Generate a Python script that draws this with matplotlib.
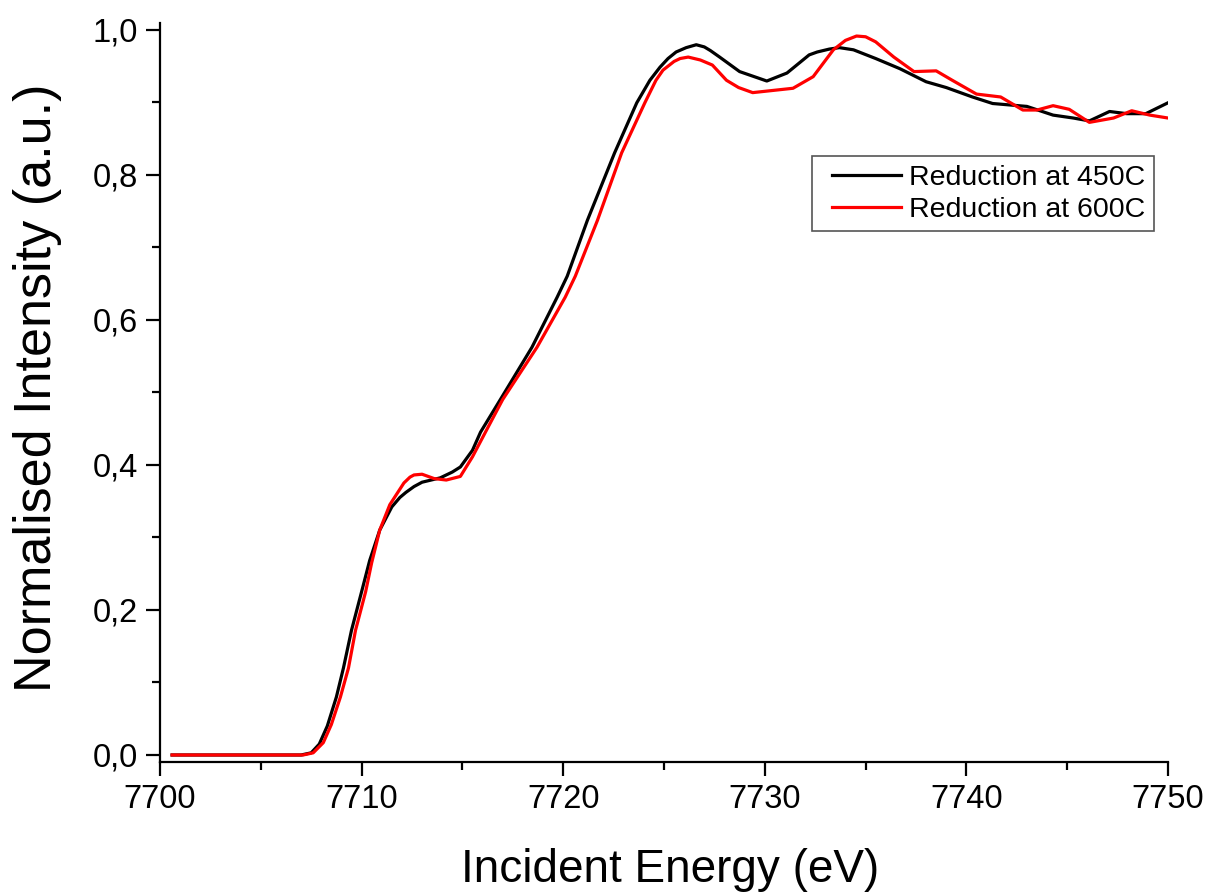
import matplotlib
matplotlib.use("Agg")
import matplotlib.pyplot as plt
from matplotlib.legend_handler import HandlerLine2D
from matplotlib.ticker import FuncFormatter, MultipleLocator

plt.rcParams["font.family"] = ["Liberation Sans", "DejaVu Sans"]

energy_450 = [7700.6, 7704.0, 7707.0, 7707.5, 7707.9, 7708.3, 7708.75, 7709.1, 7709.5,
              7710.0, 7710.4, 7710.9, 7711.5, 7711.9, 7712.2, 7712.6, 7713.0, 7713.9,
              7714.5, 7714.9, 7715.5, 7715.9, 7716.95, 7718.45, 7719.7, 7720.2, 7721.2,
              7722.55, 7723.65, 7724.3, 7724.8, 7725.2, 7725.6, 7726.1, 7726.6, 7727.0,
              7727.3, 7727.76, 7728.75, 7730.1, 7731.1, 7732.2, 7732.6, 7733.2, 7733.7,
              7734.4, 7735.5, 7736.7, 7738.0, 7739.0, 7740.3, 7741.3, 7743.0, 7744.3,
              7745.3, 7746.1, 7747.1, 7747.95, 7748.9, 7750.0]
intensity_450 = [0.0, 0.0, 0.0, 0.003, 0.015, 0.04, 0.08, 0.12, 0.172,
                 0.225, 0.268, 0.31, 0.342, 0.355, 0.362, 0.370, 0.376, 0.382,
                 0.390, 0.397, 0.420, 0.445, 0.493, 0.562, 0.631, 0.660, 0.737,
                 0.830, 0.899, 0.930, 0.948, 0.960, 0.969, 0.975, 0.979, 0.976,
                 0.971, 0.962, 0.942, 0.929, 0.940, 0.965, 0.969, 0.973, 0.975,
                 0.972, 0.960, 0.946, 0.928, 0.920, 0.907, 0.898, 0.894, 0.882,
                 0.878, 0.874, 0.887, 0.884, 0.884, 0.899]

energy_600 = [7700.6, 7704.0, 7707.1, 7707.6, 7708.1, 7708.5, 7708.95, 7709.35, 7709.7,
              7710.2, 7710.5, 7710.9, 7711.4, 7712.1, 7712.4, 7712.6, 7713.0, 7713.6,
              7714.2, 7714.9, 7715.5, 7716.2, 7717.0, 7718.7, 7720.1, 7720.6, 7721.7,
              7722.9, 7724.05, 7724.6, 7724.95, 7725.5, 7725.8, 7726.2, 7726.8, 7727.4,
              7728.1, 7728.7, 7729.4, 7730.4, 7731.4, 7732.4, 7733.4, 7734.0, 7734.55,
              7735.0, 7735.5, 7736.4, 7737.4, 7738.5, 7739.3, 7740.5, 7741.7, 7742.8,
              7743.5, 7744.3, 7745.1, 7746.1, 7747.3, 7748.2, 7749.1, 7750.0]
intensity_600 = [0.0, 0.0, 0.0, 0.003, 0.017, 0.042, 0.08, 0.12, 0.172,
                 0.225, 0.265, 0.31, 0.345, 0.375, 0.383, 0.386, 0.387, 0.381,
                 0.379, 0.384, 0.411, 0.448, 0.49, 0.562, 0.631, 0.660, 0.737,
                 0.830, 0.899, 0.930, 0.944, 0.956, 0.960, 0.962, 0.958, 0.951,
                 0.930, 0.920, 0.913, 0.916, 0.919, 0.935, 0.972, 0.985, 0.991,
                 0.990, 0.983, 0.962, 0.942, 0.943, 0.930, 0.911, 0.907, 0.889,
                 0.889, 0.895, 0.890, 0.872, 0.878, 0.888, 0.882, 0.878]

series_labels = ["Reduction at 450C", "Reduction at 600C"]


fig = plt.figure(figsize=(12.13, 8.94), dpi=100)
ax = fig.add_axes([0.1319, 0.1477, 0.8310, 0.8266])

ax.plot(energy_450, intensity_450, color="black", lw=2.3, label=series_labels[0])
ax.plot(energy_600, intensity_600, color="#ff0000", lw=2.3, label=series_labels[1])

ax.set_xlim(7700, 7750)
ax.set_ylim(-0.0096, 1.009)

for side in ("top", "right"):
    ax.spines[side].set_visible(False)
for side in ("left", "bottom"):
    ax.spines[side].set_linewidth(1.6)

ax.xaxis.set_major_locator(MultipleLocator(10))
ax.xaxis.set_minor_locator(MultipleLocator(5))
ax.yaxis.set_major_locator(MultipleLocator(0.2))
ax.yaxis.set_minor_locator(MultipleLocator(0.1))
ax.yaxis.set_major_formatter(FuncFormatter(lambda v, pos: f"{v:.1f}".replace(".", ",")))

ax.tick_params(which="major", direction="out", length=10, width=1.6, labelsize=23.5, pad=6)
ax.tick_params(which="minor", direction="out", length=6, width=1.6)

ax.set_xlabel("Incident Energy (eV)", fontsize=33)
ax.xaxis.label.set_va("baseline")
ax.xaxis.set_label_coords(0.506, -0.1624)
ax.set_ylabel("Normalised Intensity (a.u.)", fontsize=37.5)
ax.yaxis.set_label_coords(-0.0972, 0.507)

line_handler = HandlerLine2D(xpad=0.4)
ax.legend(loc="upper right", bbox_to_anchor=(0.986, 0.820), borderaxespad=0,
          fontsize=20.5, frameon=True, fancybox=False, framealpha=1,
          edgecolor="#555555", handlelength=2.8, handletextpad=0.3,
          labelspacing=0.22, borderpad=0.3,
          handler_map={plt.Line2D: line_handler})
ax.get_legend().get_frame().set_linewidth(1.2)

fig.savefig("out.png", dpi=100)
